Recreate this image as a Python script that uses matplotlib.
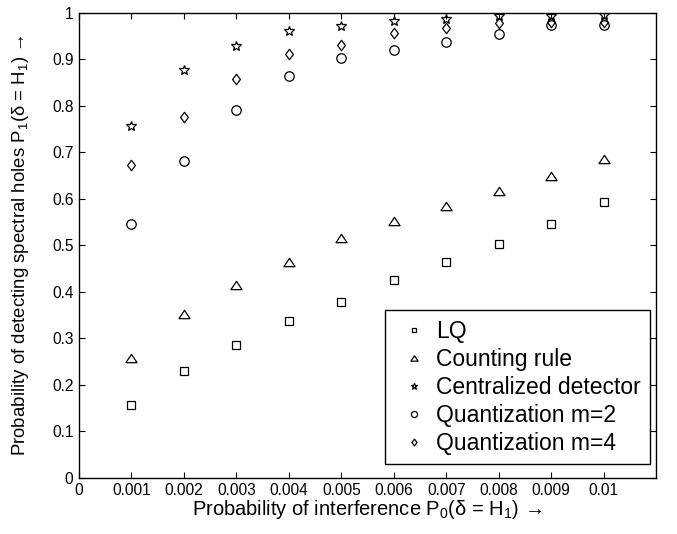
import matplotlib.pyplot as plt
import numpy as np
from matplotlib.path import Path

plt.rcParams['font.family'] = ['Liberation Sans', 'DejaVu Sans']
plt.rcParams['mathtext.fontset'] = 'custom'
plt.rcParams['mathtext.rm'] = 'Liberation Sans'
plt.rcParams['mathtext.it'] = 'Liberation Sans:italic'

# 干扰概率 P0
p0 = [0.001, 0.002, 0.003, 0.004, 0.005, 0.006, 0.007, 0.008, 0.009, 0.01]

lq = [0.156, 0.230, 0.286, 0.338, 0.378, 0.426, 0.465, 0.504, 0.546, 0.593]
counting = [0.257, 0.352, 0.414, 0.464, 0.516, 0.553, 0.584, 0.618, 0.650, 0.685]
centralized = [0.757, 0.878, 0.928, 0.961, 0.972, 0.983, 0.988, 0.993, 0.994, 0.995]
quant_m2 = [0.547, 0.682, 0.792, 0.865, 0.903, 0.920, 0.938, 0.954, 0.975, 0.975]
quant_m4 = [0.672, 0.776, 0.857, 0.912, 0.932, 0.958, 0.967, 0.979, 0.980, 0.980]

x_ticks = [0, 0.001, 0.002, 0.003, 0.004, 0.005, 0.006, 0.007, 0.008, 0.009, 0.01]
x_labels = ['0', '0.001', '0.002', '0.003', '0.004', '0.005', '0.006', '0.007',
            '0.008', '0.009', '0.01']
y_ticks = [0, 0.1, 0.2, 0.3, 0.4, 0.5, 0.6, 0.7, 0.8, 0.9, 1]
y_labels = ['0', '0.1', '0.2', '0.3', '0.4', '0.5', '0.6', '0.7', '0.8', '0.9', '1']

# MATLAB 风格的菱形和三角形
diamond = Path([(0, 1), (0.75, 0), (0, -1), (-0.75, 0), (0, 1)],
               [Path.MOVETO, Path.LINETO, Path.LINETO, Path.LINETO, Path.CLOSEPOLY])
triangle = Path([(0, 0.75), (1, -0.75), (-1, -0.75), (0, 0.75)],
                [Path.MOVETO, Path.LINETO, Path.LINETO, Path.CLOSEPOLY])

fig = plt.figure(figsize=(6.77, 5.34), dpi=100)
ax = fig.add_axes([0.1167, 0.105, 0.8523, 0.8707])

kw = dict(linestyle='none', color='black', mfc='none', mew=0.9)
ax.plot(p0, lq, marker='s', ms=5.2, label='LQ', **kw)
ax.plot(p0, counting, marker=triangle, ms=8, label='Counting rule', **kw)
ax.plot(p0, centralized, marker='*', ms=7.5, label='Centralized detector', **kw)
ax.plot(p0, quant_m2, marker='o', ms=6.8, label='Quantization m=2', **kw)
ax.plot(p0, quant_m4, marker=diamond, ms=7.5, label='Quantization m=4', **kw)

ax.set_xlim(0, 0.011)
ax.set_ylim(0, 1)
ax.set_xticks(x_ticks)
ax.set_xticklabels(x_labels)
ax.set_yticks(y_ticks)
ax.set_yticklabels(y_labels)
ax.tick_params(direction='in', top=True, right=True, labelsize=11.2, length=4.5,
               width=0.8, pad=4)
for s in ax.spines.values():
    s.set_linewidth(1.0)

ax.set_xlabel('Probability of interference P$_0$(δ = H$_1$) →',
              fontsize=14.5, labelpad=0)
ax.set_ylabel('Probability of detecting spectral holes P$_1$(δ = H$_1$) →',
              fontsize=13.4, labelpad=15)

leg = ax.legend(loc='lower right', bbox_to_anchor=(0.9896, 0.0301), borderaxespad=0,
                fontsize=16.5, markerscale=0.65, numpoints=1,
                handlelength=1.7, handletextpad=0.12, borderpad=0.4,
                fancybox=False, edgecolor='black', framealpha=1, labelspacing=0.22)
leg.get_frame().set_linewidth(1.0)

fig.savefig('out.png', dpi=100)
